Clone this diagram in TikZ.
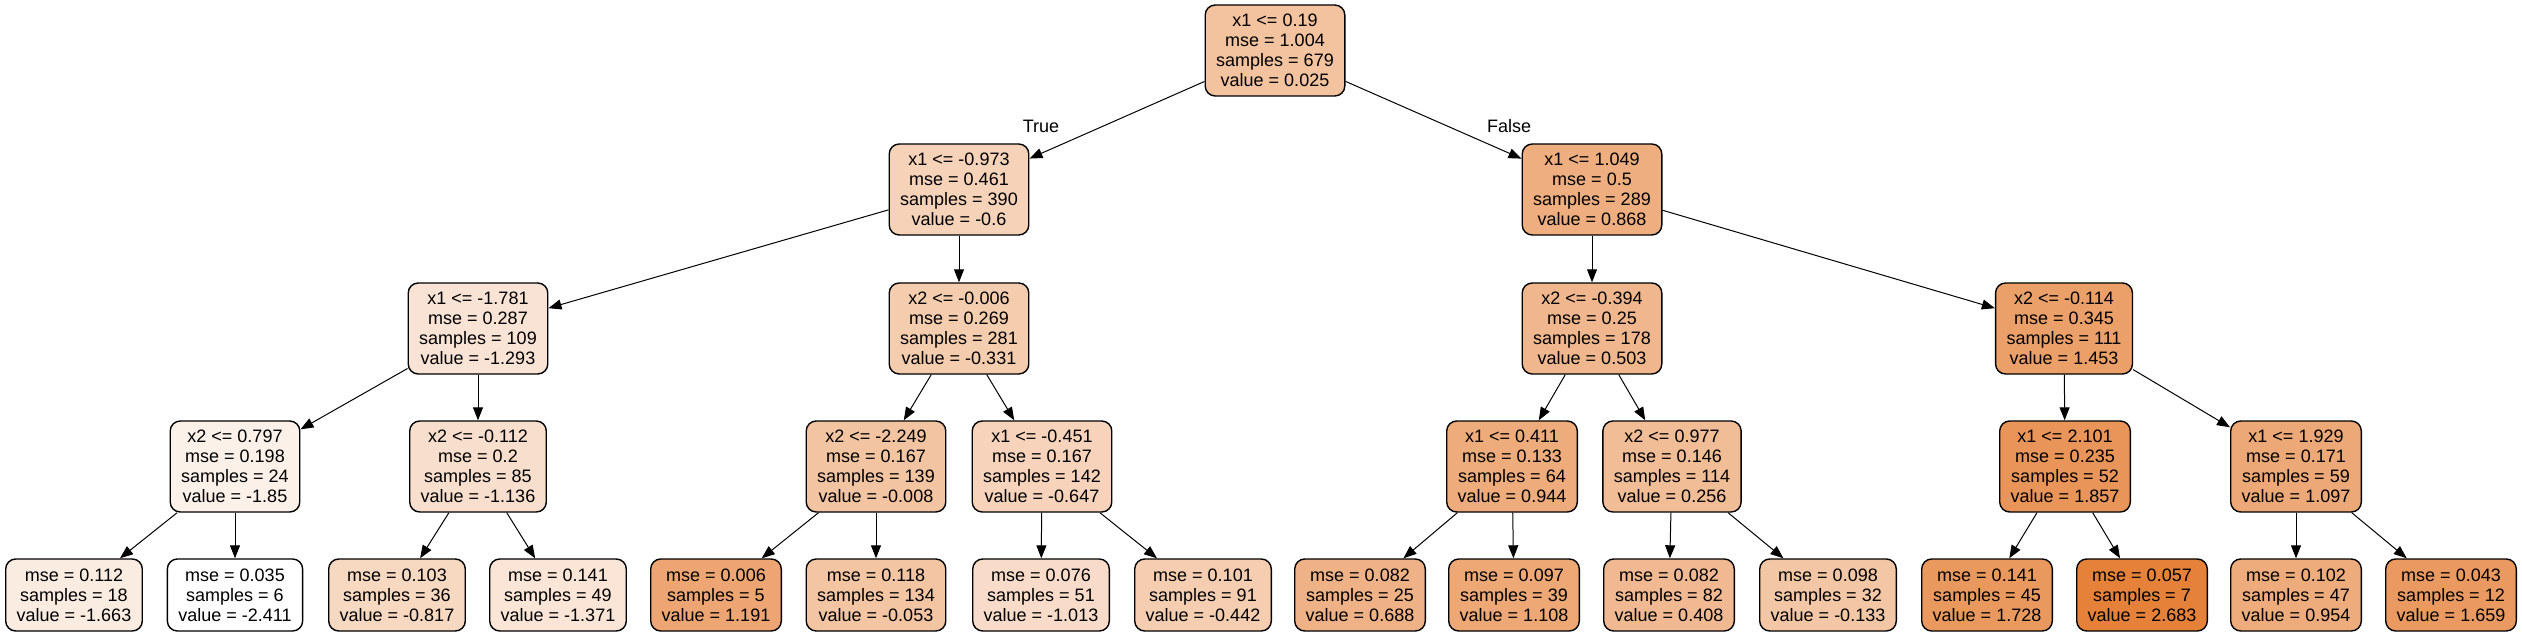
\documentclass[tikz,border=0pt]{standalone}
\usepackage{fontspec}
\setmainfont{Liberation Sans}
\usetikzlibrary{arrows.meta}
\definecolor{treeorange}{RGB}{229,129,57}
\tikzset{
  box/.style={draw=black, line width=0.7pt, rounded corners=5pt, align=center,
    inner xsep=5.5pt, inner ysep=2pt, font=\fontsize{9}{10}\selectfont},
  splitbox/.style={box, minimum height=45.5pt, fill=treeorange!#1!white},
  leafbox/.style={box, minimum height=36pt, fill=treeorange!#1!white},
  edge/.style={line width=0.5pt, -{Triangle[length=6.5pt, width=5pt]}},
  branchlbl/.style={font=\fontsize{9}{10}\selectfont}
}
\begin{document}
\begin{tikzpicture}[x=0.5pt, y=-0.5pt]
\useasboundingbox (0,0) rectangle (2522,636);

\node[splitbox=47.8] (n0) at (1275,50.5) {x1 <= 0.19\\mse = 1.004\\samples = 679\\value = 0.025};
\node[splitbox=35.6] (n1) at (959,189.5) {x1 <= -0.973\\mse = 0.461\\samples = 390\\value = -0.6};
\node[splitbox=64.4] (n2) at (1592,189.5) {x1 <= 1.049\\mse = 0.5\\samples = 289\\value = 0.868};
\node[splitbox=21.9] (n3) at (478,328.5) {x1 <= -1.781\\mse = 0.287\\samples = 109\\value = -1.293};
\node[splitbox=40.8] (n4) at (959,328.5) {x2 <= -0.006\\mse = 0.269\\samples = 281\\value = -0.331};
\node[splitbox=57.2] (n5) at (1592,328.5) {x2 <= -0.394\\mse = 0.25\\samples = 178\\value = 0.503};
\node[splitbox=75.9] (n6) at (2064,328.5) {x2 <= -0.114\\mse = 0.345\\samples = 111\\value = 1.453};
\node[splitbox=11.0] (n7) at (235,466.5) {x2 <= 0.797\\mse = 0.198\\samples = 24\\value = -1.85};
\node[splitbox=25.0] (n8) at (478,466.5) {x2 <= -0.112\\mse = 0.2\\samples = 85\\value = -1.136};
\node[splitbox=47.2] (n9) at (876,466.5) {x2 <= -2.249\\mse = 0.167\\samples = 139\\value = -0.008};
\node[splitbox=34.6] (n10) at (1042,466.5) {x1 <= -0.451\\mse = 0.167\\samples = 142\\value = -0.647};
\node[splitbox=65.9] (n11) at (1512,466.5) {x1 <= 0.411\\mse = 0.133\\samples = 64\\value = 0.944};
\node[splitbox=52.4] (n12) at (1672,466.5) {x2 <= 0.977\\mse = 0.146\\samples = 114\\value = 0.256};
\node[splitbox=83.8] (n13) at (2065,466.5) {x1 <= 2.101\\mse = 0.235\\samples = 52\\value = 1.857};
\node[splitbox=68.9] (n14) at (2296,466.5) {x1 <= 1.929\\mse = 0.171\\samples = 59\\value = 1.097};

\node[leafbox=14.7] (l1) at (74,595) {mse = 0.112\\samples = 18\\value = -1.663};
\node[leafbox=0] (l2) at (235,595) {mse = 0.035\\samples = 6\\value = -2.411};
\node[leafbox=31.3] (l3) at (397,595) {mse = 0.103\\samples = 36\\value = -0.817};
\node[leafbox=20.4] (l4) at (558,595) {mse = 0.141\\samples = 49\\value = -1.371};
\node[leafbox=70.7] (l5) at (716,595) {mse = 0.006\\samples = 5\\value = 1.191};
\node[leafbox=46.3] (l6) at (876,595) {mse = 0.118\\samples = 134\\value = -0.053};
\node[leafbox=27.4] (l7) at (1041,595) {mse = 0.076\\samples = 51\\value = -1.013};
\node[leafbox=38.7] (l8) at (1203,595) {mse = 0.101\\samples = 91\\value = -0.442};
\node[leafbox=60.8] (l9) at (1360,595) {mse = 0.082\\samples = 25\\value = 0.688};
\node[leafbox=69.1] (l10) at (1514,595) {mse = 0.097\\samples = 39\\value = 1.108};
\node[leafbox=55.3] (l11) at (1669,595) {mse = 0.082\\samples = 82\\value = 0.408};
\node[leafbox=44.7] (l12) at (1828,595) {mse = 0.098\\samples = 32\\value = -0.133};
\node[leafbox=81.3] (l13) at (1987,595) {mse = 0.141\\samples = 45\\value = 1.728};
\node[leafbox=100] (l14) at (2142,595) {mse = 0.057\\samples = 7\\value = 2.683};
\node[leafbox=66.1] (l15) at (2296,595) {mse = 0.102\\samples = 47\\value = 0.954};
\node[leafbox=79.9] (l16) at (2451,595) {mse = 0.043\\samples = 12\\value = 1.659};

\node[branchlbl] (true) at (1041,126) {True};
\node[branchlbl] (false) at (1509,126) {False};

\draw[edge] (n0) -- (n1);
\draw[edge] (n0) -- (n2);
\draw[edge] (n1) -- (n3);
\draw[edge] (n1) -- (n4);
\draw[edge] (n2) -- (n5);
\draw[edge] (n2) -- (n6);
\draw[edge] (n3) -- (n7);
\draw[edge] (n3) -- (n8);
\draw[edge] (n4) -- (n9);
\draw[edge] (n4) -- (n10);
\draw[edge] (n5) -- (n11);
\draw[edge] (n5) -- (n12);
\draw[edge] (n6) -- (n13);
\draw[edge] (n6) -- (n14);
\draw[edge] (n7) -- (l1);
\draw[edge] (n7) -- (l2);
\draw[edge] (n8) -- (l3);
\draw[edge] (n8) -- (l4);
\draw[edge] (n9) -- (l5);
\draw[edge] (n9) -- (l6);
\draw[edge] (n10) -- (l7);
\draw[edge] (n10) -- (l8);
\draw[edge] (n11) -- (l9);
\draw[edge] (n11) -- (l10);
\draw[edge] (n12) -- (l11);
\draw[edge] (n12) -- (l12);
\draw[edge] (n13) -- (l13);
\draw[edge] (n13) -- (l14);
\draw[edge] (n14) -- (l15);
\draw[edge] (n14) -- (l16);
\end{tikzpicture}
\end{document}
